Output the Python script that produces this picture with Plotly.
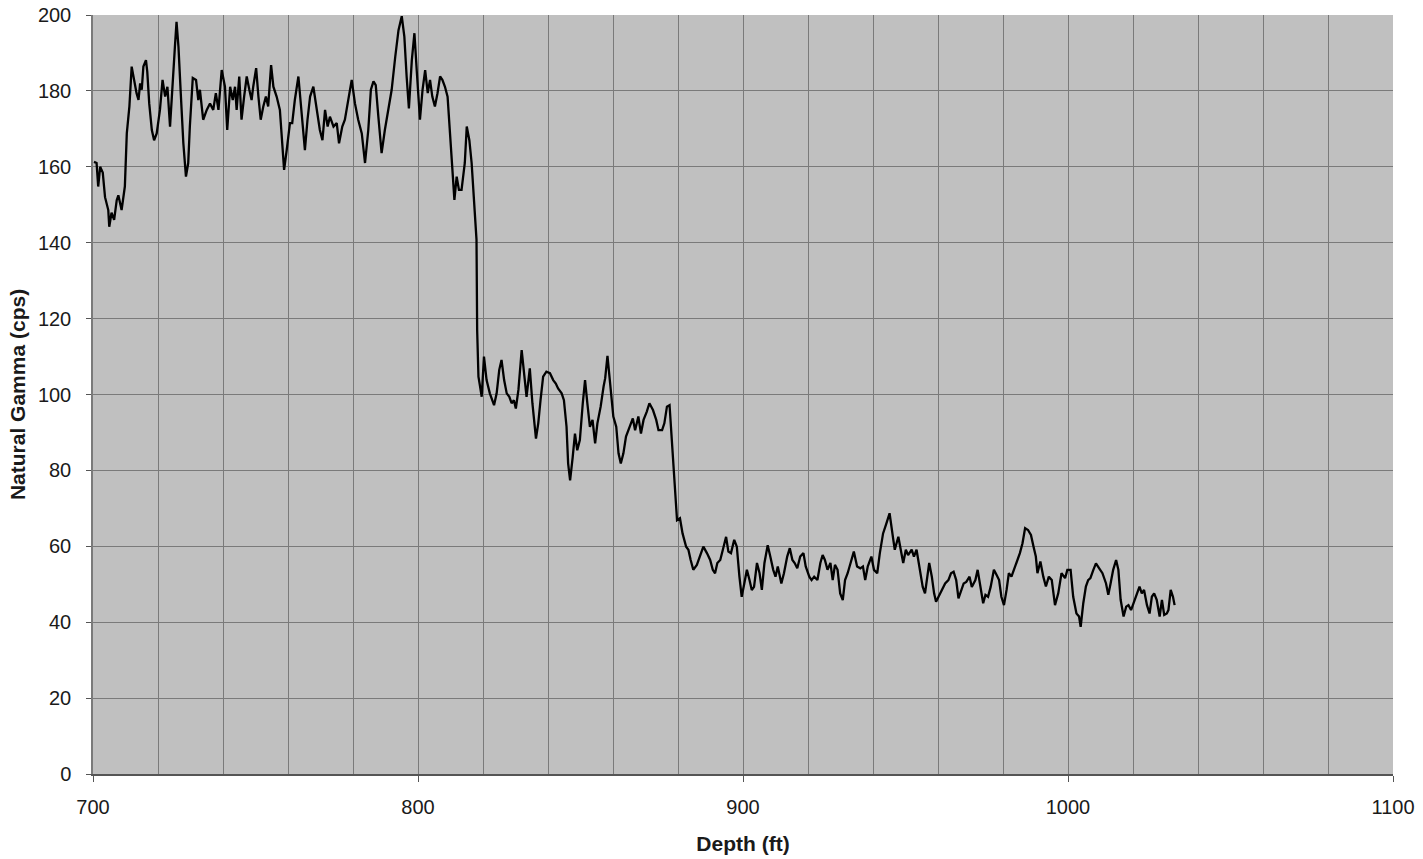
import plotly.graph_objects as go

# Depth (ft) and Natural Gamma (cps)
depth_ft = [
    700.3, 701.1, 701.6, 702.2, 703.0, 703.7, 704.7, 705.0, 705.7, 706.5,
    707.3, 707.8, 708.8, 709.8, 710.4, 711.2, 711.9, 712.6, 713.4, 714.0,
    714.5, 715.0, 715.5, 716.3, 716.7, 717.3, 718.1, 718.8, 719.6, 720.6,
    721.4, 722.2, 722.9, 723.7, 724.5, 725.2, 725.7, 726.3, 727.0, 727.8,
    728.6, 729.3, 729.8, 730.7, 731.7, 732.4, 732.9, 733.9, 735.0, 736.0,
    737.0, 737.8, 738.6, 739.6, 740.6, 741.3, 742.2, 743.0, 743.7, 744.2,
    745.0, 745.7, 746.5, 747.3, 748.1, 748.8, 749.3, 750.2, 750.9, 751.6,
    752.4, 753.2, 753.9, 754.8, 755.5, 756.5, 757.5, 758.8, 759.6, 760.6,
    761.3, 762.1, 763.2, 764.2, 765.2, 766.0, 766.8, 767.8, 768.8, 769.8,
    770.6, 771.4, 772.2, 772.9, 774.0, 775.0, 775.7, 776.7, 777.5, 778.6,
    779.6, 780.6, 781.6, 782.7, 783.7, 784.7, 785.5, 786.3, 787.0, 787.8,
    788.8, 789.8, 790.9, 791.9, 793.0, 794.0, 795.0, 795.8, 796.5, 797.2,
    798.1, 798.9, 799.6, 800.6, 801.4, 802.2, 803.0, 803.7, 804.4, 805.2,
    806.0, 806.8, 807.5, 808.3, 809.1, 809.8, 810.5, 811.2, 811.9, 812.6,
    813.4, 814.4, 815.0, 815.8, 816.5, 817.5, 818.0, 818.2, 818.6, 819.1,
    819.6, 820.3, 821.1, 822.1, 823.4, 824.2, 825.0, 825.7, 826.5, 827.3,
    828.1, 828.8, 829.5, 830.1, 830.9, 831.9, 832.6, 833.4, 834.4, 835.2,
    836.3, 837.0, 837.7, 838.5, 839.5, 840.6, 841.6, 842.4, 843.1, 844.2,
    844.9, 845.7, 846.2, 846.8, 847.6, 848.3, 849.0, 849.8, 850.7, 851.4,
    852.1, 852.9, 853.7, 854.5, 855.2, 856.2, 857.1, 857.6, 858.3, 859.1,
    860.1, 861.0, 861.7, 862.4, 863.2, 864.0, 865.1, 866.1, 866.8, 867.8,
    868.6, 869.4, 870.4, 871.2, 872.3, 873.3, 874.0, 875.1, 875.8, 876.6,
    877.4, 878.2, 878.9, 879.7, 880.6, 881.4, 882.5, 883.2, 883.9, 884.7,
    885.8, 886.8, 887.8, 888.9, 889.9, 890.7, 891.4, 892.1, 893.0, 893.8,
    894.8, 895.5, 896.3, 897.3, 898.1, 898.9, 899.6, 900.4, 901.2, 902.0,
    902.7, 903.4, 904.3, 905.1, 905.8, 906.6, 907.6, 908.4, 909.3, 910.0,
    910.7, 911.8, 912.6, 913.6, 914.4, 915.2, 915.9, 916.7, 917.6, 918.6,
    919.3, 920.4, 921.1, 921.9, 922.9, 923.8, 924.5, 925.2, 926.0, 926.9,
    927.6, 928.3, 929.1, 929.9, 930.7, 931.4, 932.2, 933.1, 934.1, 935.1,
    936.1, 936.9, 937.6, 938.4, 939.5, 940.3, 941.3, 942.1, 943.1, 944.1,
    945.1, 946.2, 946.7, 947.8, 948.5, 949.3, 950.1, 950.8, 951.9, 952.6,
    953.4, 954.5, 955.3, 956.0, 956.7, 957.3, 958.1, 958.8, 959.4, 960.1,
    961.2, 962.2, 963.2, 964.0, 964.8, 965.6, 966.3, 967.1, 967.9, 968.7,
    969.7, 970.4, 971.5, 972.2, 973.0, 973.9, 974.6, 975.4, 976.2, 977.2,
    978.0, 978.8, 979.5, 980.3, 981.1, 981.8, 982.6, 983.4, 984.2, 985.2,
    986.0, 986.8, 987.7, 988.6, 989.4, 990.1, 990.6, 991.5, 992.4, 993.2,
    994.1, 995.0, 996.0, 997.0, 998.0, 999.1, 999.8, 1000.8, 1001.6, 1002.6,
    1003.4, 1003.9, 1004.7, 1005.5, 1006.2, 1006.9, 1007.8, 1008.6, 1009.6, 1010.6,
    1011.7, 1012.4, 1013.1, 1013.9, 1014.8, 1015.5, 1016.2, 1017.1, 1017.9, 1018.6,
    1019.4, 1020.2, 1021.2, 1022.0, 1022.7, 1023.4, 1024.3, 1025.1, 1025.8, 1026.5,
    1027.3, 1028.2, 1028.9, 1029.6, 1030.4, 1030.9, 1031.6, 1032.3, 1032.8,
]

gamma_cps = [
    161.3, 161.0, 154.8, 160.0, 158.5, 152.0, 148.6, 144.2, 147.9, 146.0,
    151.2, 152.5, 148.6, 154.8, 168.8, 175.9, 186.4, 182.9, 179.4, 177.6,
    182.0, 180.3, 186.4, 188.1, 185.0, 176.7, 169.7, 167.0, 168.8, 175.0,
    182.9, 178.5, 181.1, 170.6, 183.8, 191.6, 198.2, 191.6, 179.4, 166.2,
    157.4, 161.0, 170.6, 183.4, 182.9, 177.6, 180.3, 172.4, 175.0, 176.7,
    175.0, 179.4, 175.0, 185.5, 181.1, 169.7, 181.1, 177.6, 181.1, 175.0,
    183.8, 172.4, 178.5, 183.8, 180.3, 177.6, 181.1, 186.0, 178.5, 172.4,
    175.9, 178.5, 175.9, 186.8, 181.1, 178.5, 175.0, 159.2, 164.4, 171.5,
    171.5, 177.6, 183.8, 174.1, 164.4, 172.4, 178.5, 181.1, 175.9, 169.7,
    167.0, 175.0, 170.6, 173.2, 170.6, 171.5, 166.2, 170.6, 172.4, 178.5,
    182.9, 176.7, 172.4, 168.8, 161.0, 169.7, 180.3, 182.5, 181.5, 173.2,
    163.6, 169.7, 175.0, 180.3, 189.0, 196.0, 199.7, 194.3, 183.8, 175.4,
    188.1, 195.2, 185.5, 172.4, 180.3, 185.5, 179.4, 182.9, 178.5, 175.9,
    179.4, 183.8, 182.9, 181.1, 178.5, 169.7, 159.2, 151.3, 157.4, 153.9,
    153.9, 161.0, 170.6, 167.0, 161.0, 148.6, 140.8, 117.0, 104.7, 102.1,
    99.4, 110.0, 103.8, 100.3, 97.2, 100.3, 106.5, 109.1, 103.8, 100.3,
    99.4, 97.7, 98.5, 96.3, 101.2, 111.7, 106.5, 99.4, 106.9, 97.7,
    88.4, 92.4, 98.5, 104.7, 106.0, 105.6, 103.8, 102.9, 101.6, 100.3,
    98.5, 91.5, 81.8, 77.4, 83.5, 89.7, 85.3, 88.0, 97.7, 103.8,
    97.7, 91.5, 93.3, 87.1, 92.4, 96.8, 102.1, 104.3, 110.2, 103.0,
    94.2, 91.5, 84.5, 81.8, 84.5, 88.9, 91.5, 93.7, 90.6, 94.2,
    89.7, 93.3, 95.5, 97.7, 95.9, 93.3, 90.6, 90.6, 92.4, 96.8,
    97.2, 86.2, 74.8, 66.9, 67.4, 63.4, 59.9, 59.1, 56.4, 53.8,
    55.1, 57.3, 59.9, 58.2, 56.4, 53.8, 52.9, 55.6, 56.4, 59.1,
    62.5, 58.6, 58.2, 61.7, 59.9, 52.0, 46.7, 50.2, 53.8, 51.1,
    48.5, 49.3, 55.6, 52.9, 48.5, 55.6, 60.3, 57.3, 53.8, 52.0,
    54.7, 50.2, 52.9, 57.3, 59.5, 56.4, 55.6, 54.2, 57.3, 58.2,
    54.7, 52.0, 51.1, 52.0, 51.1, 55.6, 57.7, 56.4, 53.8, 55.6,
    51.1, 55.1, 53.8, 47.6, 45.8, 51.1, 52.9, 55.6, 58.6, 54.7,
    54.2, 54.7, 51.1, 54.7, 57.3, 53.8, 52.9, 58.2, 63.4, 66.0,
    68.7, 62.0, 59.1, 62.5, 59.1, 55.6, 59.1, 57.7, 59.1, 57.3,
    59.1, 53.8, 49.3, 47.6, 52.0, 55.6, 52.0, 47.6, 45.4, 46.7,
    48.5, 50.2, 51.1, 52.9, 53.3, 51.1, 46.3, 48.5, 50.2, 50.6,
    52.0, 49.3, 51.1, 53.8, 49.3, 45.0, 47.2, 46.7, 49.3, 53.8,
    52.5, 51.1, 46.7, 44.5, 48.5, 52.9, 52.0, 53.8, 55.6, 58.2,
    60.8, 64.8, 64.3, 63.0, 59.9, 57.3, 52.9, 56.0, 52.0, 49.4,
    52.0, 51.1, 44.5, 47.6, 52.9, 51.6, 53.8, 53.8, 46.7, 42.3,
    41.5, 38.8, 45.0, 49.4, 51.1, 51.6, 53.8, 55.5, 54.2, 52.9,
    50.2, 47.2, 50.2, 53.8, 56.4, 53.8, 45.9, 41.5, 44.1, 44.5,
    43.2, 45.0, 47.6, 49.4, 47.6, 48.5, 44.5, 42.3, 46.7, 47.6,
    45.9, 41.5, 45.9, 41.9, 42.3, 43.2, 48.5, 46.7, 44.5,
]

x_tick_vals = [700, 800, 900, 1000, 1100]
y_tick_vals = [0, 20, 40, 60, 80, 100, 120, 140, 160, 180, 200]

FONT = "Liberation Sans, Arial, sans-serif"
GRID = "#7a7a7a"

fig = go.Figure()
fig.add_trace(go.Scatter(
    x=depth_ft, y=gamma_cps, mode="lines",
    line=dict(color="#000000", width=2.3),
    showlegend=False,
))

fig.update_layout(
    width=1423, height=859,
    margin=dict(l=93, r=30, t=15, b=85, autoexpand=False),
    paper_bgcolor="#ffffff",
    plot_bgcolor="#c0c0c0",
    font=dict(family=FONT, size=20, color="#1a1a1a"),
    xaxis=dict(
        range=[700, 1100],
        tickvals=x_tick_vals,
        ticktext=[str(v) for v in x_tick_vals],
        ticks="outside", ticklen=6, tickcolor="#555555",
        showgrid=True, gridcolor=GRID, gridwidth=1,
        minor=dict(dtick=20, tick0=700, showgrid=True, gridcolor=GRID, gridwidth=1, ticks=""),
        showline=True, linecolor="#555555", linewidth=1.5,
        zeroline=False,
        automargin=False,
        ticklabeloverflow="allow",
        ticklabelstandoff=8,
        title=dict(text="Depth (ft)", font=dict(family=FONT, size=21, weight="bold", color="#1a1a1a"), standoff=20),
    ),
    yaxis=dict(
        range=[0, 200],
        tickvals=y_tick_vals,
        ticks="outside", ticklen=5, tickcolor="#555555",
        showgrid=True, gridcolor=GRID, gridwidth=1,
        showline=True, linecolor="#7a7a7a", linewidth=1.5,
        zeroline=False,
        automargin=False,
        ticklabeloverflow="allow",
        ticklabelstandoff=11,
        title=dict(text="Natural Gamma (cps)", font=dict(family=FONT, size=21, weight="bold", color="#1a1a1a"), standoff=7),
    ),
)

# remove the default 8px page margin so the figure sits at the window's top-left corner
fig.write_html(
    "out.html",
    config={"displayModeBar": False},
    post_script="document.body.style.margin='0';",
)
